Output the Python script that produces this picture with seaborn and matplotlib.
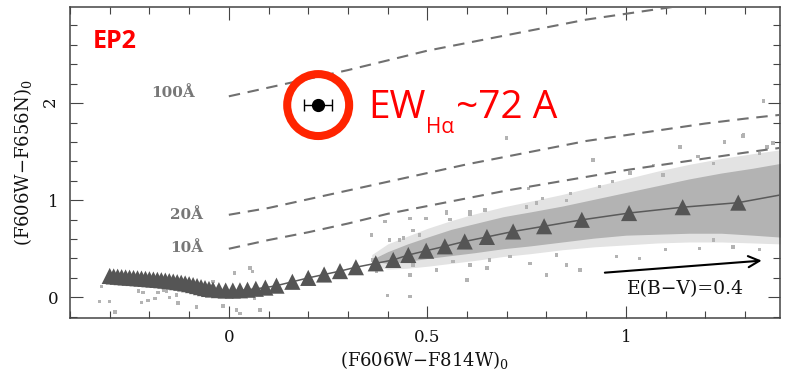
import matplotlib
matplotlib.use("Agg")
import matplotlib.pyplot as plt
import seaborn as sns
import pandas as pd
from matplotlib.ticker import MultipleLocator

# ---------------- data ----------------
# model sequence (triangles), (F606W-F814W)0 vs (F606W-F656N)0
tri_x = [-0.300, -0.290, -0.280, -0.270, -0.260, -0.250, -0.240, -0.230, -0.220,
         -0.210, -0.200, -0.190, -0.180, -0.170, -0.160, -0.150, -0.140, -0.130,
         -0.120, -0.110, -0.100, -0.090, -0.080, -0.070, -0.060, -0.050, -0.040,
         -0.025, -0.008, 0.010, 0.028, 0.047, 0.068, 0.092, 0.120, 0.160, 0.200,
         0.240, 0.280, 0.320, 0.370, 0.414, 0.452, 0.497, 0.544, 0.594, 0.650,
         0.716, 0.794, 0.889, 1.008, 1.143, 1.283]
tri_y = [0.220, 0.215, 0.212, 0.208, 0.205, 0.202, 0.199, 0.196, 0.193,
         0.190, 0.186, 0.183, 0.180, 0.176, 0.172, 0.167, 0.162, 0.156,
         0.150, 0.143, 0.135, 0.126, 0.116, 0.105, 0.095, 0.086, 0.080,
         0.074, 0.070, 0.070, 0.072, 0.078, 0.088, 0.100, 0.120, 0.160, 0.200,
         0.235, 0.270, 0.310, 0.350, 0.385, 0.436, 0.480, 0.525, 0.575, 0.622,
         0.678, 0.732, 0.798, 0.868, 0.928, 0.975]
line_end_x = [1.39]
line_end_y = [1.055]

# constant EW(Halpha) model lines
ew_grid_x = [0.0, 0.1, 0.2, 0.3, 0.4, 0.5, 0.6, 0.7, 0.8, 0.9, 1.0, 1.1, 1.2, 1.3, 1.39]
ew100_y = [2.07, 2.16, 2.25, 2.34, 2.44, 2.54, 2.62, 2.70, 2.78, 2.86, 2.92, 2.98, 3.04, 3.09, 3.13]
ew20_y = [0.85, 0.92, 1.01, 1.10, 1.19, 1.28, 1.37, 1.45, 1.53, 1.61, 1.67, 1.73, 1.79, 1.84, 1.88]
ew10_y = [0.50, 0.59, 0.67, 0.76, 0.86, 0.94, 1.02, 1.10, 1.17, 1.24, 1.31, 1.37, 1.43, 1.49, 1.54]
ew_labels = ["100Å", "20Å", "10Å"]
ew_label_x = [-0.141, -0.107, -0.107]
ew_label_y = [2.10, 0.85, 0.505]

# dense core of the stellar distribution (band) and its sparser halo
core_x = [0.36, 0.40, 0.45, 0.50, 0.56, 0.62, 0.69, 0.76, 0.84, 0.92, 1.00, 1.08, 1.16, 1.24, 1.32, 1.39]
core_lo = [0.37, 0.35, 0.37, 0.40, 0.43, 0.46, 0.50, 0.53, 0.57, 0.61, 0.64, 0.65, 0.66, 0.66, 0.64, 0.62]
core_hi = [0.39, 0.47, 0.55, 0.62, 0.70, 0.76, 0.83, 0.88, 0.94, 1.01, 1.08, 1.15, 1.22, 1.28, 1.33, 1.38]
halo_lo = [0.33, 0.29, 0.30, 0.32, 0.35, 0.38, 0.42, 0.45, 0.49, 0.52, 0.54, 0.56, 0.57, 0.57, 0.56, 0.55]
halo_hi = [0.44, 0.55, 0.63, 0.71, 0.79, 0.86, 0.93, 0.99, 1.06, 1.14, 1.22, 1.30, 1.37, 1.43, 1.48, 1.52]

# individual stars outside the dense core
stray_x = [-0.32, -0.325, -0.30, -0.287, -0.228, -0.216, -0.204, -0.22, -0.178, -0.165,
           -0.157, -0.149, -0.186, -0.128, -0.082, -0.04, -0.015, 0.015, 0.053, 0.06,
           0.065, 0.019, 0.028, 0.078, -0.132,
           0.40, 0.36, 0.456, 0.497, 0.548, 0.607, 0.645, 0.75, 0.79, 0.86, 0.85,
           0.44, 0.48, 0.464, 0.456, 0.523, 0.565, 0.607, 0.657, 0.708, 0.758,
           0.80, 0.825, 0.85, 0.389, 0.422, 0.372, 0.363,
           0.456, 0.60, 0.884, 0.65, 0.977, 1.035, 1.10, 1.186, 1.27, 1.337, 1.22,
           1.296, 1.249, 1.136, 1.182, 1.069, 1.01, 0.917, 0.967, 0.934, 1.093,
           1.22, 1.337, 1.37, 1.316, 1.287,
           1.346, 1.295, 0.70, 1.355,
           0.607, 0.548, 0.557, 0.464, 0.43, 0.393, 0.405, 0.754, 0.775]
stray_y = [0.11, -0.04, -0.045, -0.15, 0.065, 0.048, -0.03, -0.055, 0.048, 0.075,
           0.058, 0.0, -0.01, -0.06, -0.10, 0.16, -0.09, 0.25, 0.30, 0.265,
           -0.01, -0.13, -0.165, -0.13, 0.024,
           0.02, 0.64, 0.81, 0.81, 0.87, 0.85, 0.90, 0.93, 1.02, 1.07, 1.0,
           0.61, 0.64, 0.333, 0.23, 0.28, 0.367, 0.333, 0.385, 0.42, 0.35,
           0.23, 0.436, 0.333, 0.42, 0.47, 0.264, 0.385,
           0.006, 0.18, 0.28, 0.30, 0.42, 0.40, 0.49, 0.505, 0.52, 0.49, 0.59,
           1.67, 1.60, 1.55, 1.45, 1.36, 1.28, 1.415, 1.19, 1.14, 1.26,
           1.38, 1.48, 1.59, 0.69, 0.80,
           2.02, 1.66, 1.64, 1.55,
           0.88, 0.88, 0.80, 0.69, 0.59, 0.78, 0.59, 1.12, 0.97]

# highlighted star EP2
hl_x = [0.225]
hl_y = [1.98]
hl_xerr = [0.036]

# reddening vector
red_x = [0.947, 1.342]
red_y = [0.254, 0.378]
red_label = "E(B−V)=0.4"

xlabel = "(F606W−F814W)$_0$"
ylabel = "(F606W−F656N)$_0$"
xticks = [0, 0.5, 1]
xticklabels = ["0", "0.5", "1"]
yticks = [0, 1, 2]
yticklabels = ["0", "1", "2"]

# ---------------- figure ----------------
sns.set_theme(style="ticks")
plt.rcParams["font.family"] = ["DejaVu Serif"]
plt.rcParams["mathtext.fontset"] = "dejavuserif"

fig = plt.figure(figsize=(7.92, 3.78), dpi=100)
ax = fig.add_axes([0.0884, 0.1595, 0.8964, 0.822])

grey_pts = "#b3b3b3"
ax.fill_between(core_x, halo_lo, halo_hi, color="#e3e3e3", lw=0, zorder=0.8)
ax.fill_between(core_x, core_lo, core_hi, color=grey_pts, lw=0, zorder=1)
sns.scatterplot(x=stray_x, y=stray_y, marker="s", s=6, color=grey_pts,
                edgecolor="none", linewidth=0, ax=ax, zorder=2)

dash = (0, (5.5, 3.7))
for ys in (ew100_y, ew20_y, ew10_y):
    sns.lineplot(x=ew_grid_x, y=ys, sort=False, estimator=None, color="#707070",
                 lw=1.5, linestyle=dash, ax=ax, zorder=3)
for lab, lx, ly in zip(ew_labels, ew_label_x, ew_label_y):
    ax.text(lx, ly, lab, ha="center", va="center", color="#777777",
            fontsize=11, fontweight="bold")

seq = pd.DataFrame({"x": tri_x + line_end_x, "y": tri_y + line_end_y})
sns.lineplot(data=seq, x="x", y="y", sort=False, estimator=None,
             color="#5a5a5a", lw=1.1, ax=ax, zorder=4)
sns.scatterplot(x=tri_x, y=tri_y, marker="^", s=135, color="#555555",
                edgecolor="none", linewidth=0, ax=ax, zorder=5)

# highlighted point
ax.errorbar(hl_x, hl_y, xerr=hl_xerr, fmt="o", color="black", ms=8.5,
            capsize=4.5, elinewidth=1.0, capthick=1.0, zorder=7)
ax.scatter(hl_x, hl_y, s=44.6 ** 2, facecolors="none", edgecolors="#ff2400",
           linewidths=5.8, zorder=6)

# reddening arrow
ax.annotate("", xy=(red_x[1], red_y[1]), xytext=(red_x[0], red_y[0]),
            arrowprops=dict(arrowstyle="->", lw=1.5, color="black",
                            mutation_scale=20, shrinkA=0, shrinkB=0))
ax.text(1.149, 0.086, red_label, ha="center", va="center", fontsize=13.5,
        color="#111111")

ax.text(-0.287, 2.635, "EP2", ha="center", va="center", color="#ff0000",
        fontsize=18, fontweight="bold", family=["Open Sans", "DejaVu Sans"])

ax.set_xlim(-0.40, 1.388)
ax.set_ylim(-0.21, 2.99)
ax.set_xticks(xticks)
ax.set_xticklabels(xticklabels)
ax.set_yticks(yticks)
ax.set_yticklabels(yticklabels)
ax.xaxis.set_minor_locator(MultipleLocator(0.1))
ax.yaxis.set_minor_locator(MultipleLocator(0.2))
ax.tick_params(which="both", direction="in", top=True, right=True,
               color="#444444", width=0.8, labelsize=12, labelcolor="#111111")
ax.tick_params(which="major", length=9, pad=8)
ax.tick_params(which="minor", length=4.7)
for sp in ax.spines.values():
    sp.set_color("#444444")
    sp.set_linewidth(1.1)
ax.set_xlabel(xlabel, fontsize=13, color="#111111", labelpad=2)
ax.set_ylabel(ylabel, fontsize=13, color="#111111", labelpad=6)
for tk in ax.yaxis.get_major_ticks():
    if tk.label1.get_text() == "2":
        tk.label1.set_rotation(90)

# EW label (chained pieces)
renderer = fig.canvas.get_renderer()
base_y = 378 - 118.3
t1 = fig.text(368, base_y, "EW", transform=None, color="#ff0000", fontsize=28,
              family=["Open Sans", "DejaVu Sans"], va="baseline", ha="left")
bb1 = t1.get_window_extent(renderer)
t2 = fig.text(bb1.x1 + 1, base_y - 15, "Hα", transform=None, color="#ff0000",
              fontsize=15, family=["Open Sans", "DejaVu Sans"], va="baseline", ha="left")
bb2 = t2.get_window_extent(renderer)
t3 = fig.text(bb2.x1 + 1, base_y, "~72 A", transform=None, color="#ff0000",
              fontsize=28, family=["Open Sans", "DejaVu Sans"], va="baseline", ha="left")

fig.savefig("out.png", dpi=100)
